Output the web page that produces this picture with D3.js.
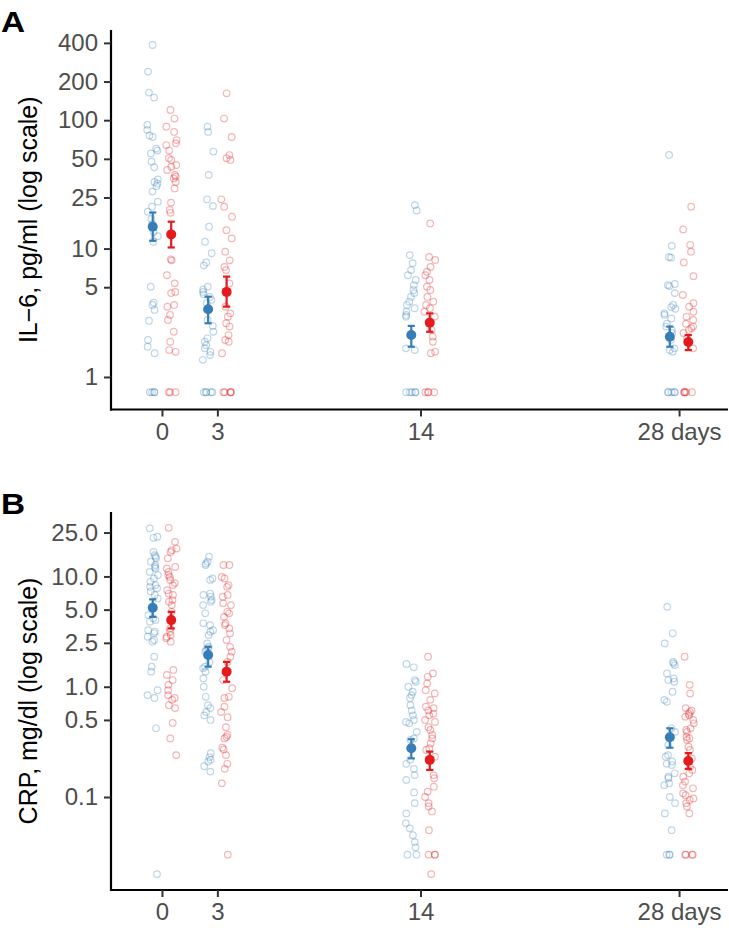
<!DOCTYPE html>
<html>
<head>
<meta charset="utf-8">
<script src="https://cdn.jsdelivr.net/npm/d3@7"></script>
<style>
body { margin: 0; background: #fff; }
svg text { font-family: "Liberation Sans", Arial, Helvetica, sans-serif; }
</style>
</head>
<body>
<svg id="chart" width="729" height="928"></svg>
<script>
// days on the x axis
var days = [0, 3, 14, 28];
var dayLabels = ["0", "3", "14", "28 days"];

// IL-6 (pg/ml), one inner array per day
var il6Blue = [
    [385, 239, 164, 150, 92, 84, 76, 74, 60, 58, 55, 47.5, 43, 34.6, 33, 32, 30.6, 27.8, 23.2, 21.2, 19.4, 17, 15.5, 13.5, 12.5, 11.3, 5.05, 3.79, 3.64, 3.33, 2.74, 1.94, 1.72, 1.53, 0.76, 0.76, 0.76, 0.76],
    [89, 81, 57, 37.5, 24.2, 21.5, 14.8, 11.3, 9.2, 7.8, 7.4, 5.05, 4.8, 4.6, 4.4, 4.2, 3.98, 3.75, 2.78, 2.5, 2.25, 2.0, 1.88, 1.77, 1.67, 1.57, 1.48, 1.36, 0.76, 0.76, 0.76, 0.76, 0.76],
    [21.8, 19.8, 8.9, 7.7, 6.8, 6.2, 5.7, 5.2, 4.76, 4.5, 4.2, 3.86, 3.64, 3.43, 3.22, 3.04, 2.95, 1.67, 1.62, 0.76, 0.76, 0.76, 0.76, 0.76],
    [53.6, 10.5, 8.6, 8.5, 5.3, 5.2, 5.1, 4.5, 3.64, 3.5, 3.4, 3.13, 3.04, 2.86, 2.6, 2.47, 2.32, 2.19, 1.94, 1.67, 1.62, 1.57, 0.76, 0.76, 0.76, 0.76, 0.76]
];
var il6Red = [
    [120, 103, 89, 81, 70, 66, 64, 58, 50.6, 49, 44.7, 43.3, 41, 37.5, 36.3, 35.2, 33, 29.4, 22.8, 20, 19, 8.25, 8.1, 6.2, 5.36, 4.6, 4.5, 3.64, 3.53, 3.04, 2.78, 2.25, 1.88, 1.62, 1.57, 0.76, 0.76, 0.76],
    [162, 103, 74, 53.5, 50.6, 49, 24.2, 21.2, 17.7, 13.9, 12, 9.45, 8.1, 7.2, 6.8, 5.36, 4.5, 3.53, 3.13, 2.95, 2.62, 2.47, 2.12, 1.94, 1.88, 1.53, 0.76, 0.76, 0.76, 0.76, 0.76],
    [15.7, 8.6, 8.15, 7.2, 6.6, 6.2, 5.7, 5.05, 4.76, 4.2, 3.86, 3.64, 3.43, 3.22, 2.95, 2.32, 2.06, 1.88, 1.57, 1.53, 0.76, 0.76, 0.76, 0.76],
    [21.2, 14.1, 10.7, 9.45, 7.8, 6.1, 4.35, 3.75, 3.53, 3.22, 2.95, 2.78, 2.6, 2.47, 2.4, 2.32, 2.2, 2.0, 1.67, 0.76, 0.76, 0.76, 0.76, 0.76]
];
var il6BlueMean = [14.8, 3.37, 2.12, 2.06], il6BlueLo = [11.5, 2.62, 1.72, 1.72], il6BlueHi = [19.1, 4.22, 2.5, 2.47];
var il6RedMean = [12.9, 4.6, 2.65, 1.87], il6RedLo = [10.2, 3.53, 2.25, 1.62], il6RedHi = [16.2, 6.05, 3.13, 2.12];
var il6Ticks = [1, 5, 10, 25, 50, 100, 200, 400];
var il6TickLabels = ["1", "5", "10", "25", "50", "100", "200", "400"];

// CRP (mg/dl)
var crpBlue = [
    [27.3, 22.9, 22.4, 16.7, 15.6, 15.1, 14.6, 13.6, 12.7, 12.2, 11.8, 11.0, 10.3, 9.6, 8.95, 8.35, 8.05, 7.8, 7.3, 6.8, 6.3, 4.46, 4.17, 4.02, 3.88, 3.26, 3.15, 3.05, 2.84, 2.65, 2.56, 1.87, 1.52, 1.37, 0.93, 0.84, 0.79, 0.42, 0.02],
    [15.1, 13.6, 13.1, 12.7, 9.6, 9.3, 7.0, 6.8, 6.55, 6.1, 5.9, 5.5, 4.63, 3.76, 3.62, 3.26, 3.15, 2.94, 2.47, 2.3, 2.23, 2.15, 2.08, 1.68, 1.52, 1.47, 1.37, 1.19, 1.0, 0.81, 0.68, 0.64, 0.59, 0.55, 0.5, 0.25, 0.23, 0.217, 0.21, 0.19, 0.17],
    [1.61, 1.5, 1.15, 1.11, 1.0, 0.9, 0.84, 0.79, 0.68, 0.61, 0.55, 0.5, 0.48, 0.466, 0.39, 0.34, 0.33, 0.217, 0.2, 0.18, 0.158, 0.143, 0.11, 0.088, 0.071, 0.058, 0.052, 0.045, 0.039, 0.035, 0.03, 0.03],
    [5.3, 3.05, 2.47, 1.68, 1.63, 1.57, 1.32, 1.19, 1.15, 1.11, 0.9, 0.76, 0.73, 0.42, 0.39, 0.35, 0.296, 0.24, 0.232, 0.21, 0.2, 0.195, 0.164, 0.153, 0.148, 0.133, 0.128, 0.1, 0.088, 0.071, 0.05, 0.03, 0.03, 0.03]
];
var crpRed = [
    [27.6, 20.6, 17.9, 17.3, 16.7, 14.6, 12.2, 11.8, 11.0, 10.3, 9.9, 9.3, 8.7, 8.35, 7.5, 7.0, 6.8, 6.1, 5.9, 5.5, 4.78, 3.38, 3.15, 2.94, 2.84, 2.75, 2.56, 1.42, 1.28, 1.15, 1.04, 0.93, 0.84, 0.79, 0.76, 0.68, 0.64, 0.47, 0.34, 0.24],
    [12.7, 12.7, 9.9, 9.6, 8.35, 8.05, 6.8, 6.55, 5.7, 5.5, 4.78, 4.63, 4.3, 3.76, 3.62, 3.38, 3.05, 2.65, 2.3, 2.08, 1.87, 1.68, 1.15, 0.97, 0.81, 0.79, 0.66, 0.59, 0.53, 0.43, 0.365, 0.35, 0.34, 0.28, 0.27, 0.24, 0.2, 0.18, 0.133, 0.03],
    [1.87, 1.32, 1.23, 1.07, 0.93, 0.87, 0.76, 0.66, 0.64, 0.61, 0.57, 0.55, 0.5, 0.48, 0.43, 0.405, 0.365, 0.34, 0.307, 0.277, 0.267, 0.232, 0.158, 0.148, 0.124, 0.112, 0.1, 0.088, 0.082, 0.074, 0.05, 0.03, 0.03, 0.03, 0.02],
    [1.87, 1.04, 0.87, 0.64, 0.61, 0.59, 0.57, 0.55, 0.535, 0.5, 0.466, 0.42, 0.405, 0.39, 0.35, 0.34, 0.33, 0.286, 0.267, 0.224, 0.188, 0.176, 0.164, 0.153, 0.138, 0.128, 0.12, 0.108, 0.104, 0.097, 0.094, 0.088, 0.082, 0.071, 0.03, 0.03, 0.03, 0.03]
];
var crpBlueMean = [5.2, 1.94, 0.277, 0.348], crpBlueLo = [4.3, 1.52, 0.224, 0.28], crpBlueHi = [6.2, 2.3, 0.334, 0.42];
var crpRedMean = [4.02, 1.37, 0.217, 0.212], crpRedLo = [3.38, 1.11, 0.176, 0.18], crpRedHi = [4.78, 1.68, 0.258, 0.25];
var crpTicks = [0.1, 0.5, 1, 2.5, 5, 10, 25];
var crpTickLabels = ["0.1", "0.5", "1.0", "2.5", "5.0", "10.0", "25.0"];

var BLUE = "#377EB8", RED = "#E41A1C";
var svg = d3.select("#chart");

// jitter for the raw points (seeded so every render looks the same)
var jitter = d3.randomUniform.source(d3.randomLcg(0.37))(-0.3, 0.3);

var x = d3.scaleLinear().domain([-2.76, 30.65]).range([111, 728]);

function drawPanel(p) {
    var y = d3.scaleLog().domain(p.domain).range([p.bottom, p.top]);
    var g = svg.append("g");

    // raw values
    [[p.blue, BLUE, -0.5], [p.red, RED, 0.5]].forEach(function(s) {
        s[0].forEach(function(vals, i) {
            g.append("g").selectAll("circle")
                .data(vals)
                .enter().append("circle")
                    .attr("cx", function() { return x(days[i] + s[2] + jitter()); })
                    .attr("cy", function(d) { return y(d); })
                    .attr("r", 3.3)
                    .attr("fill", "none")
                    .attr("stroke", s[1])
                    .attr("stroke-opacity", 0.32)
                    .attr("stroke-width", 1.2);
        });
    });

    // means with error bars
    [[p.blueMean, p.blueLo, p.blueHi, BLUE, -0.5], [p.redMean, p.redLo, p.redHi, RED, 0.5]].forEach(function(s) {
        days.forEach(function(day, i) {
            var cx = x(day + s[4]);
            g.append("line").attr("x1", cx).attr("x2", cx)
                .attr("y1", y(s[1][i])).attr("y2", y(s[2][i]))
                .attr("stroke", s[3]).attr("stroke-width", 2.2);
            [s[1][i], s[2][i]].forEach(function(v) {
                g.append("line").attr("x1", cx - 3.6).attr("x2", cx + 3.6)
                    .attr("y1", y(v)).attr("y2", y(v))
                    .attr("stroke", s[3]).attr("stroke-width", 2.2);
            });
            g.append("circle").attr("cx", cx).attr("cy", y(s[0][i]))
                .attr("r", 5).attr("fill", s[3]);
        });
    });

    // axes
    var yAxis = d3.axisLeft(y).tickValues(p.ticks)
        .tickFormat(function(d, i) { return p.tickLabels[i]; })
        .tickSize(7).tickPadding(6).tickSizeOuter(0);
    var xAxis = d3.axisBottom(x).tickValues(days)
        .tickFormat(function(d, i) { return dayLabels[i]; })
        .tickSize(7).tickPadding(6).tickSizeOuter(0);

    var ya = svg.append("g").attr("transform", "translate(111,0)").call(yAxis);
    var xa = svg.append("g").attr("transform", "translate(0," + p.bottom + ")").call(xAxis);
    [ya, xa].forEach(function(a) {
        a.select(".domain").attr("stroke", "#000").attr("stroke-width", 2.2);
        a.selectAll(".tick line").attr("stroke", "#333").attr("stroke-width", 2);
        a.selectAll(".tick text").attr("fill", "#4D4D4D").style("font-size", "24px");
    });
    ya.select(".domain").attr("d", "M0," + p.top + "V" + (p.bottom + 1.1));
    xa.select(".domain").attr("d", "M110,0H728");

    svg.append("text")
        .attr("transform", "translate(36.5," + ((p.top + p.bottom) / 2) + ") rotate(-90)")
        .attr("text-anchor", "middle")
        .style("font-size", "25px")
        .attr("fill", "#000")
        .text(p.title);

    svg.append("text")
        .attr("transform", "translate(1," + (p.top + 2) + ") scale(1.15,1)")
        .style("font-size", "29px").style("font-weight", "bold")
        .attr("fill", "#000")
        .text(p.letter);
}

drawPanel({
    letter: "A", title: "IL\u22126, pg/ml (log scale)",
    top: 30, bottom: 409.5, domain: [0.558, 504],
    ticks: il6Ticks, tickLabels: il6TickLabels,
    blue: il6Blue, red: il6Red,
    blueMean: il6BlueMean, blueLo: il6BlueLo, blueHi: il6BlueHi,
    redMean: il6RedMean, redLo: il6RedLo, redHi: il6RedHi
});

drawPanel({
    letter: "B", title: "CRP, mg/dl (log scale)",
    top: 512, bottom: 890, domain: [0.01435, 38.4],
    ticks: crpTicks, tickLabels: crpTickLabels,
    blue: crpBlue, red: crpRed,
    blueMean: crpBlueMean, blueLo: crpBlueLo, blueHi: crpBlueHi,
    redMean: crpRedMean, redLo: crpRedLo, redHi: crpRedHi
});
</script>
</body>
</html>
